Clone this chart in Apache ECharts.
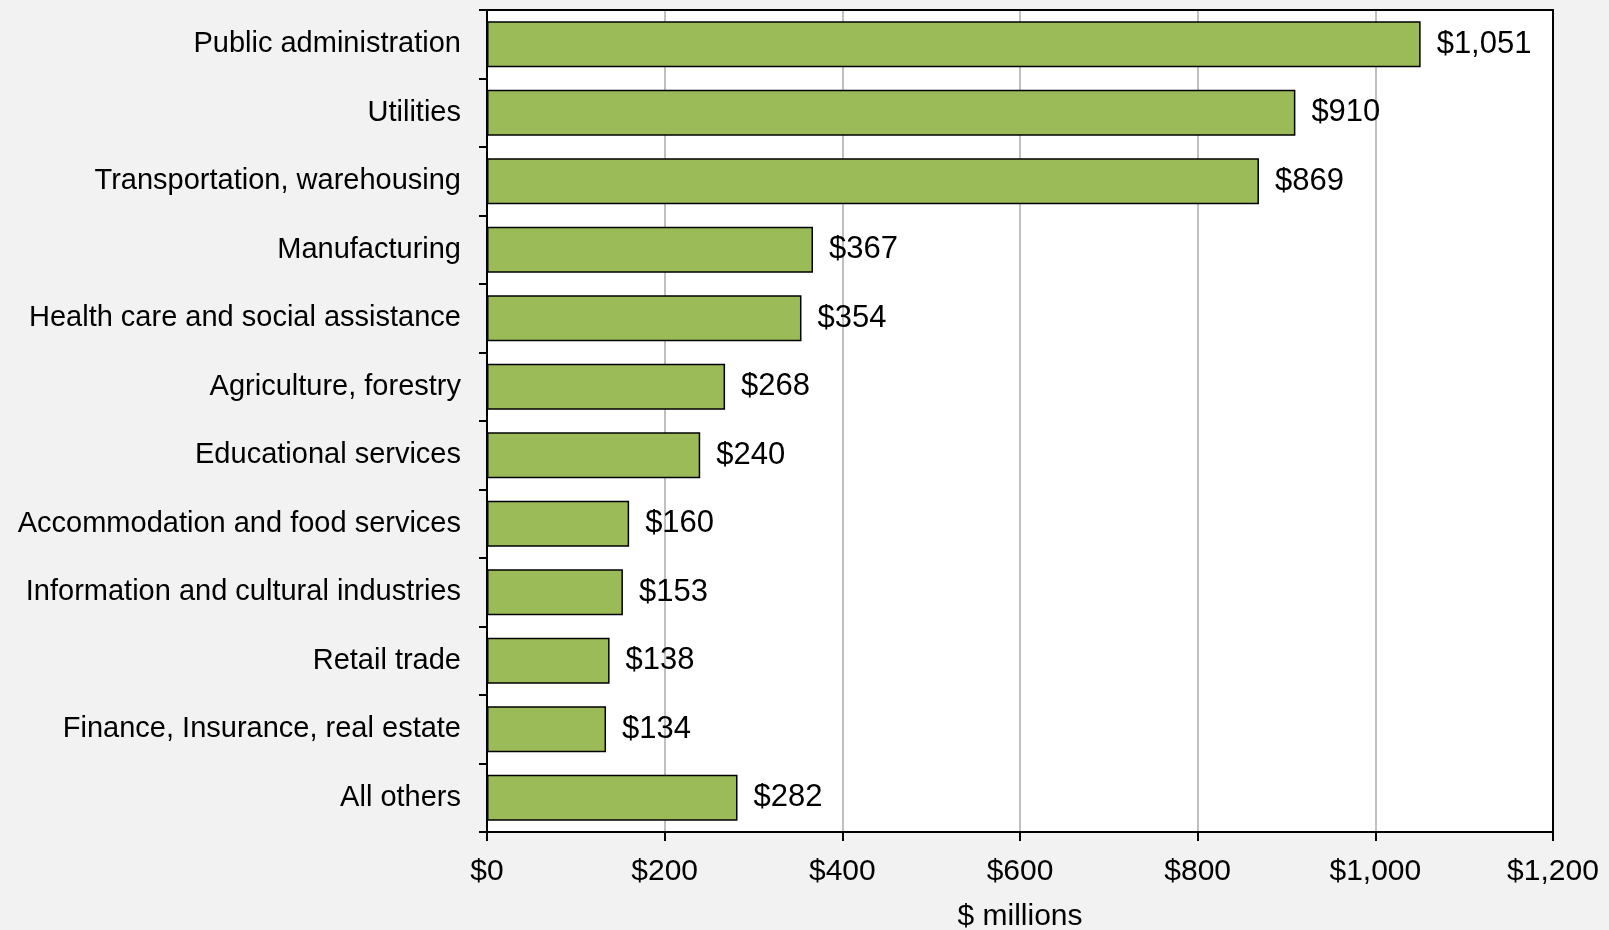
<!DOCTYPE html>
<html>
<head>
<meta charset="utf-8">
<script src="https://cdn.jsdelivr.net/npm/echarts@6/dist/echarts.min.js"></script>
<style>
  html, body { margin: 0; padding: 0; background: #f2f2f2; }
  #chart { width: 1609px; height: 930px; }
</style>
</head>
<body>
<div id="chart"></div>
<script>
// Industry categories, listed top to bottom
const categories = [
  'Public administration',
  'Utilities',
  'Transportation, warehousing',
  'Manufacturing',
  'Health care and social assistance',
  'Agriculture, forestry',
  'Educational services',
  'Accommodation and food services',
  'Information and cultural industries',
  'Retail trade',
  'Finance, Insurance, real estate',
  'All others'
];

// Amount per industry, $ millions
const values = [1051, 910, 869, 367, 354, 268, 240, 160, 153, 138, 134, 282];

// Value axis ticks
const axisMin = 0;
const axisMax = 1200;
const axisStep = 200;

const FONT = '"Liberation Sans", Arial, sans-serif';
const money = v => '$' + v.toLocaleString('en-US');
const frameLine = { show: true, onZero: false, lineStyle: { color: '#000', width: 2 } };

const chart = echarts.init(document.getElementById('chart'), null, { renderer: 'canvas' });

chart.setOption({
  backgroundColor: '#f2f2f2',
  animation: false,
  grid: {
    left: 487,
    right: 56,
    top: 10,
    bottom: 98,
    containLabel: false,
    outerBoundsMode: 'none',
    show: true,
    backgroundColor: '#ffffff',
    borderColor: '#000000',
    borderWidth: 2
  },
  xAxis: [{
    type: 'value',
    min: axisMin,
    max: axisMax,
    interval: axisStep,
    name: '$ millions',
    nameLocation: 'middle',
    nameGap: 70,
    nameTextStyle: { fontFamily: FONT, fontSize: 30, color: '#000' },
    axisLine: frameLine,
    axisTick: { show: true, length: 9, lineStyle: { color: '#000', width: 2 } },
    axisLabel: {
      margin: 25,
      fontFamily: FONT,
      fontSize: 30,
      color: '#000',
      formatter: v => money(v)
    },
    splitLine: {
      show: true,
      showMinLine: false,
      showMaxLine: false,
      lineStyle: { color: '#c0c0c0', width: 2 }
    }
  }, {
    // top edge of the plot frame
    type: 'value',
    position: 'top',
    min: axisMin,
    max: axisMax,
    interval: axisStep,
    z: 5,
    axisLine: frameLine,
    axisTick: { show: false },
    axisLabel: { show: false },
    splitLine: { show: false }
  }],
  yAxis: [{
    type: 'category',
    data: categories,
    inverse: true,
    z: 5,
    axisLine: frameLine,
    axisTick: { show: true, length: 8, lineStyle: { color: '#000', width: 2 } },
    axisLabel: {
      margin: 26,
      fontFamily: FONT,
      fontSize: 29,
      color: '#000'
    },
    splitLine: { show: false }
  }, {
    // right edge of the plot frame
    type: 'value',
    position: 'right',
    min: 0,
    max: 1,
    z: 5,
    axisLine: frameLine,
    axisTick: { show: false },
    axisLabel: { show: false },
    splitLine: { show: false }
  }],
  series: [{
    type: 'bar',
    xAxisIndex: 0,
    yAxisIndex: 0,
    data: values,
    barCategoryGap: '33%',
    itemStyle: {
      color: '#9bbb59',
      borderColor: '#000000',
      borderWidth: 1.5
    },
    label: {
      show: true,
      position: 'right',
      distance: 16,
      fontFamily: FONT,
      fontSize: 31,
      color: '#000',
      formatter: p => money(p.value)
    }
  }]
});
</script>
</body>
</html>
